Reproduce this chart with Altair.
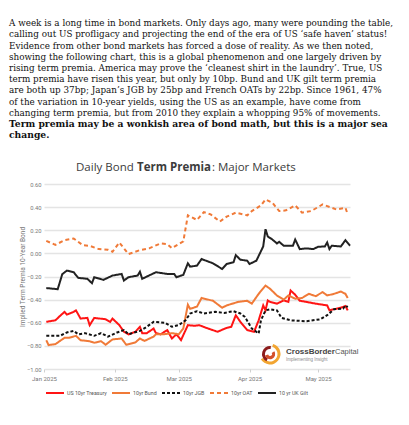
import altair as alt
import pandas as pd

# ---------------- data ----------------
series_names = ["US 10yr Treasury", "10yr Bund", "10yr JGB", "10yr OAT", "10 yr UK Gilt"]

tr_dates = ["2025-01-02","2025-01-06","2025-01-08","2025-01-10","2025-01-11","2025-01-14","2025-01-15",
            "2025-01-17","2025-01-20","2025-01-21","2025-01-23","2025-01-28","2025-01-30","2025-01-31",
            "2025-02-03","2025-02-05","2025-02-07","2025-02-10","2025-02-12","2025-02-13","2025-02-15",
            "2025-02-18","2025-02-19","2025-02-21","2025-02-24","2025-02-26","2025-02-28","2025-03-02",
            "2025-03-05","2025-03-08","2025-03-10","2025-03-13","2025-03-18","2025-03-22","2025-03-24",
            "2025-03-26","2025-03-28","2025-03-31","2025-04-03","2025-04-05","2025-04-07","2025-04-08",
            "2025-04-09","2025-04-10","2025-04-13","2025-04-16","2025-04-18","2025-04-19","2025-04-21",
            "2025-04-23","2025-04-26","2025-04-30","2025-05-05","2025-05-06","2025-05-08","2025-05-11",
            "2025-05-13","2025-05-14"]
tr_vals = [-0.592,-0.579,-0.541,-0.506,-0.530,-0.506,-0.493,
           -0.564,-0.558,-0.621,-0.558,-0.570,-0.592,-0.564,
           -0.621,-0.678,-0.701,-0.678,-0.635,-0.690,-0.690,
           -0.650,-0.690,-0.700,-0.664,-0.736,-0.700,-0.750,
           -0.621,-0.626,-0.621,-0.644,-0.678,-0.644,-0.635,
           -0.535,-0.592,-0.664,-0.678,-0.579,-0.450,-0.493,
           -0.407,-0.420,-0.435,-0.407,-0.420,-0.321,-0.358,
           -0.410,-0.420,-0.435,-0.450,-0.493,-0.483,-0.470,
           -0.455,-0.493]

bund_dates = ["2025-01-02","2025-01-03","2025-01-06","2025-01-10","2025-01-12","2025-01-15","2025-01-17",
              "2025-01-21","2025-01-23","2025-01-26","2025-01-28","2025-01-31","2025-02-04","2025-02-06",
              "2025-02-10","2025-02-12","2025-02-14","2025-02-18","2025-02-19","2025-02-22","2025-02-26",
              "2025-03-01","2025-03-03","2025-03-05","2025-03-06","2025-03-09","2025-03-11","2025-03-16",
              "2025-03-20","2025-03-22","2025-03-27","2025-03-31","2025-04-02","2025-04-05","2025-04-08",
              "2025-04-10","2025-04-13","2025-04-16","2025-04-18","2025-04-21","2025-04-24","2025-04-27",
              "2025-04-30","2025-05-03","2025-05-05","2025-05-08","2025-05-11","2025-05-13","2025-05-14"]
bund_vals = [-0.751,-0.793,-0.785,-0.730,-0.730,-0.713,-0.751,
             -0.760,-0.773,-0.760,-0.790,-0.744,-0.736,-0.790,
             -0.770,-0.736,-0.757,-0.720,-0.700,-0.700,-0.690,
             -0.700,-0.650,-0.444,-0.480,-0.460,-0.386,-0.410,
             -0.470,-0.450,-0.420,-0.410,-0.435,-0.350,-0.278,
             -0.307,-0.364,-0.400,-0.364,-0.392,-0.386,-0.350,
             -0.370,-0.335,-0.364,-0.350,-0.330,-0.350,-0.386]

jgb_dates = ["2025-01-02","2025-01-08","2025-01-11","2025-01-14","2025-01-16","2025-01-19","2025-01-23",
             "2025-01-26","2025-01-29","2025-02-02","2025-02-05","2025-02-07","2025-02-12","2025-02-15",
             "2025-02-18","2025-02-23","2025-02-26","2025-03-01","2025-03-04","2025-03-06","2025-03-09",
             "2025-03-12","2025-03-17","2025-03-21","2025-03-25","2025-03-28","2025-03-30","2025-04-02",
             "2025-04-03","2025-04-05","2025-04-06","2025-04-08","2025-04-10","2025-04-13","2025-04-15",
             "2025-04-19","2025-04-26","2025-05-02","2025-05-05","2025-05-08","2025-05-12","2025-05-13",
             "2025-05-14"]
jgb_vals = [-0.713,-0.713,-0.684,-0.670,-0.700,-0.690,-0.713,
            -0.690,-0.720,-0.684,-0.664,-0.700,-0.670,-0.635,
            -0.592,-0.600,-0.635,-0.620,-0.579,-0.520,-0.500,
            -0.520,-0.506,-0.515,-0.500,-0.520,-0.550,-0.650,
            -0.664,-0.693,-0.579,-0.493,-0.483,-0.493,-0.558,
            -0.579,-0.587,-0.570,-0.535,-0.483,-0.478,-0.450,
            -0.465]

oat_dates = ["2025-01-02","2025-01-06","2025-01-10","2025-01-14","2025-01-18","2025-01-21","2025-01-25",
             "2025-01-29","2025-01-31","2025-02-03","2025-02-07","2025-02-12","2025-02-16","2025-02-21",
             "2025-02-24","2025-02-26","2025-03-03","2025-03-05","2025-03-09","2025-03-12","2025-03-15",
             "2025-03-19","2025-03-22","2025-03-26","2025-03-31","2025-04-02","2025-04-06","2025-04-08",
             "2025-04-11","2025-04-14","2025-04-17","2025-04-21","2025-04-24","2025-04-28","2025-05-03",
             "2025-05-07","2025-05-09","2025-05-13","2025-05-14"]
oat_vals = [0.108,0.074,0.114,0.129,0.071,0.065,0.037,
            0.031,0.014,0.094,-0.006,0.028,0.043,0.086,
            0.080,0.045,0.103,0.329,0.289,0.357,0.337,
            0.275,0.318,0.352,0.329,0.366,0.415,0.466,
            0.438,0.366,0.372,0.415,0.352,0.366,0.423,
            0.395,0.380,0.395,0.337]

gilt_dates = ["2025-01-02","2025-01-07","2025-01-09","2025-01-11","2025-01-14","2025-01-16","2025-01-20",
              "2025-01-22","2025-01-23","2025-01-27","2025-01-31","2025-02-04","2025-02-05","2025-02-07",
              "2025-02-11","2025-02-12","2025-02-13","2025-02-19","2025-02-24","2025-02-27","2025-02-28",
              "2025-03-03","2025-03-05","2025-03-06","2025-03-09","2025-03-11","2025-03-16","2025-03-20",
              "2025-03-22","2025-03-25","2025-03-26","2025-03-28","2025-03-31","2025-04-01","2025-04-04",
              "2025-04-07","2025-04-08","2025-04-09","2025-04-11","2025-04-13","2025-04-14","2025-04-16",
              "2025-04-20","2025-04-21","2025-04-23","2025-04-26","2025-04-29","2025-05-01","2025-05-04",
              "2025-05-05","2025-05-06","2025-05-07","2025-05-11","2025-05-13","2025-05-15"]
gilt_vals = [-0.300,-0.310,-0.180,-0.149,-0.163,-0.212,-0.220,
             -0.258,-0.206,-0.229,-0.192,-0.178,-0.235,-0.206,
             -0.192,-0.158,-0.220,-0.163,-0.178,-0.178,-0.206,
             -0.186,-0.086,-0.115,-0.106,-0.049,-0.086,-0.135,
             -0.092,-0.077,-0.015,-0.055,-0.063,-0.092,-0.063,
             0.060,0.209,0.146,0.120,0.086,0.100,0.066,
             0.066,0.120,0.037,0.043,0.037,0.057,0.060,
             0.094,0.037,0.066,0.060,0.114,0.066]

y_ticks = [-1.0, -0.8, -0.6, -0.4, -0.2, 0.0, 0.2, 0.4, 0.6]
month_ticks = [(2025, 1), (2025, 2), (2025, 3), (2025, 4), (2025, 5)]

text_lines = [
    "A week is a long time in bond markets. Only days ago, many were pounding the table,",
    "calling out US profligacy and projecting the end of the era of US \u2018safe haven\u2019 status!",
    "Evidence from other bond markets has forced a dose of reality. As we then noted,",
    "showing the following chart, this is a global phenomenon and one largely driven by",
    "rising term premia. America may prove the \u2018cleanest shirt in the laundry\u2019. True, US",
    "term premia have risen this year, but only by 10bp. Bund and UK gilt term premia",
    "are both up 37bp; Japan\u2019s JGB by 25bp and French OATs by 22bp. Since 1961, 47%",
    "of the variation in 10-year yields, using the US as an example, have come from",
    "changing term premia, but from 2010 they explain a whopping 95% of movements.",
]
bold_lines = [
    "Term premia may be a wonkish area of bond math, but this is a major sea",
    "change.",
]

# ---------------- build table ----------------
frames = []
for name, d, v in [(series_names[0], tr_dates, tr_vals), (series_names[1], bund_dates, bund_vals),
                   (series_names[2], jgb_dates, jgb_vals), (series_names[3], oat_dates, oat_vals),
                   (series_names[4], gilt_dates, gilt_vals)]:
    frames.append(pd.DataFrame({"date": d, "value": v, "series": name}))
df = pd.concat(frames, ignore_index=True)

colors = ["#ff1414", "#f07a38", "#111111", "#f07a38", "#222222"]
dashes = [[1, 0], [1, 0], [3, 2], [4, 3], [1, 0]]
widths = [2.0, 2.0, 1.5, 1.6, 1.3]

leg = dict(title=None, orient="none", legendX=1, legendY=199, direction="horizontal", columns=5,
           symbolSize=324, symbolStrokeWidth=2, labelFontSize=5.3, labelColor="#555555",
           labelFont="Roboto", columnPadding=1, labelOffset=2)

lines = alt.Chart(df).mark_line().encode(
    x=alt.X("date:T",
            scale=alt.Scale(domain=[alt.DateTime(year=2025, month=1, date=1),
                                    alt.DateTime(year=2025, month=5, date=15)]),
            axis=alt.Axis(values=[alt.DateTime(year=y, month=m, date=1) for y, m in month_ticks],
                          format="%b %Y", title=None, grid=False, domain=False, labelFlush=False,
                          ticks=True, tickSize=3, tickColor="#d0d0d0",
                          labelFontSize=6, labelColor="#777777", labelPadding=3,
                          labelFont="Roboto")),
    y=alt.Y("value:Q",
            scale=alt.Scale(domain=[-1.0, 0.6], nice=False, zero=False),
            axis=alt.Axis(values=y_ticks, format=".2f", title="Implied Term Premia 10-Year Bond",
                          grid=True, gridColor="#e4e4e4", gridWidth=1.5, domain=False, ticks=False,
                          labelFontSize=5.8, labelColor="#777777", labelPadding=3, labelFont="Roboto",
                          titleFontSize=6.5, titleColor="#777777", titleFontWeight="normal",
                          titleFont="Roboto", titlePadding=1)),
    color=alt.Color("series:N", sort=series_names,
                    scale=alt.Scale(domain=series_names, range=colors),
                    legend=alt.Legend(**leg)),
    strokeDash=alt.StrokeDash("series:N", sort=series_names,
                              scale=alt.Scale(domain=series_names, range=dashes),
                              legend=alt.Legend(**leg)),
    strokeWidth=alt.StrokeWidth("series:N", sort=series_names,
                                scale=alt.Scale(domain=series_names, range=widths), legend=None),
    order=alt.Order("date:T"),
)

one = pd.DataFrame({"k": [0]})

def label(txt, x, y, size, weight="normal", color="#3c3c3c", font="Open Sans", style="normal"):
    return alt.Chart(one).mark_text(text=txt, align="left", baseline="middle", font=font,
                                    fontSize=size, fontWeight=weight, color=color,
                                    fontStyle=style).encode(x=alt.value(x), y=alt.value(y))

t1 = label("Daily Bond", 32, -16, 11.5)
t2 = label("Term Premia", 93, -16, 11.5, weight="bold")
t3 = label(": Major Markets", 168, -16, 11.5)

# logo
def arc(r1, r2, a1, a2, color):
    return alt.Chart(one).mark_arc(innerRadius=r1, outerRadius=r2, theta=a1, theta2=a2,
                                   color=color).encode(x=alt.value(226), y=alt.value(170))

logo = (arc(7.5, 10.5, 0.3, 4.2, "#f2a531") + arc(5, 8, 3.6, 6.4, "#8c1c1c")
        + arc(2, 5.2, 1.0, 4.4, "#d4502a"))
l1 = label("CrossBorder", 242, 168, 8, weight="bold", color="#444444", font="Liberation Sans")
l2 = label("Capital", 291, 168, 7.5, color="#555555", font="Liberation Sans")
l3 = label("Implementing Insight", 242, 176, 4.5, color="#8a8a8a", font="Liberation Sans")

chart = alt.layer(lines, t1, t2, t3, logo, l1, l2, l3).properties(
    width=306, height=185,
    padding={"left": 44, "top": 184, "right": 59, "bottom": 56},
    autosize=alt.AutoSizeParams(type="none"),
    background="white",
    title=alt.Title(text=text_lines, subtitle=bold_lines, anchor="start", frame="group",
                    dx=-35, offset=22, font="DejaVu Serif", fontSize=8.8,
                    fontWeight="normal", color="#111111", lineHeight=11.2,
                    subtitleFont="DejaVu Serif", subtitleFontSize=9.2,
                    subtitleFontWeight="bold", subtitleColor="#111111",
                    subtitleLineHeight=11.2, subtitlePadding=2),
).configure_view(stroke=None)

chart.save("out.html", embed_options={"renderer": "svg", "actions": False})
